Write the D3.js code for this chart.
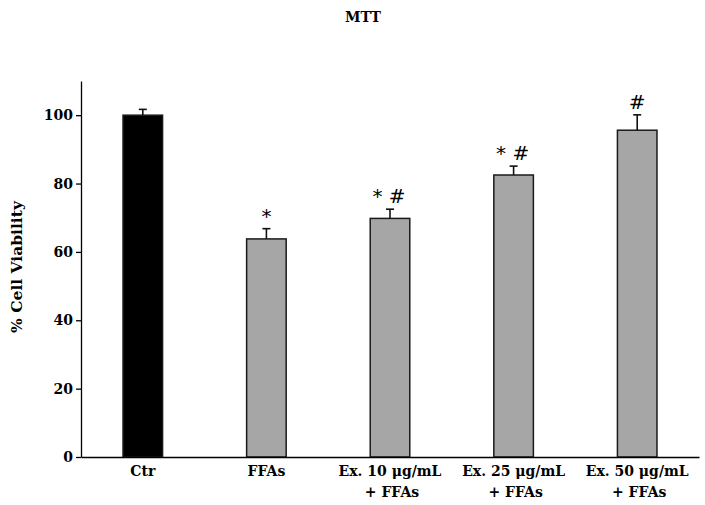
<!DOCTYPE html>
<html>
<head>
<meta charset="utf-8">
<script src="https://cdn.jsdelivr.net/npm/d3@7"></script>
<style>
  body { margin: 0; background: #fff; }
  text { font-family: "DejaVu Serif", serif; }
</style>
</head>
<body>
<div id="chart"></div>
<script>
// chart data
const categories = ['Ctr', 'FFAs', 'Ex. 10 μg/mL|+ FFAs', 'Ex. 25 μg/mL|+ FFAs', 'Ex. 50 μg/mL|+ FFAs']
const viability = [100, 63.8, 69.8, 82.5, 95.6]
const errors = [1.7, 3.0, 2.7, 2.6, 4.5]
const marks = ['', '*', '* #', '* #', '#']
const barColors = ['#000000', '#a6a6a6', '#a6a6a6', '#a6a6a6', '#a6a6a6']
const yTicks = [0, 20, 40, 60, 80, 100]

const width = 705
const height = 505
const margin = { top: 81, right: 5, bottom: 48, left: 81 }
const labelStyle = 'font-size:14px;font-weight:bold;font-family:"DejaVu Serif",serif;'

const svg = d3.select('#chart')
  .append('svg')
  .attr('width', width)
  .attr('height', height)

const x = d3.scaleBand()
  .domain(categories)
  .range([margin.left, width - margin.right - 1])
  .paddingInner(0.68)
  .paddingOuter(0.34)

const y = d3.scaleLinear()
  .domain([0, 110])
  .range([height - margin.bottom, margin.top])

// title
svg.append('text')
  .attr('x', 363)
  .attr('y', 22)
  .attr('text-anchor', 'middle')
  .attr('style', 'font-size:14px;font-weight:bold;')
  .text('MTT')

// y axis label
svg.append('text')
  .attr('transform', `translate(22,${267}) rotate(-90)`)
  .attr('text-anchor', 'middle')
  .attr('style', 'font-size:15.5px;font-weight:bold;')
  .text('% Cell Viability')

// bars
const g = svg.append('g')
g.selectAll('rect')
  .data(viability)
  .enter()
  .append('rect')
  .attr('x', (d, i) => x(categories[i]))
  .attr('y', d => y(d))
  .attr('width', x.bandwidth())
  .attr('height', d => y(0) - y(d))
  .attr('fill', (d, i) => barColors[i])
  .attr('stroke', '#1a1a1a')
  .attr('stroke-width', 1.5)

// error bars
const err = svg.append('g')
  .attr('stroke', '#111')
  .attr('stroke-width', 1.6)
viability.forEach((v, i) => {
  const cx = x(categories[i]) + x.bandwidth() / 2
  err.append('line')
    .attr('x1', cx).attr('x2', cx)
    .attr('y1', y(v)).attr('y2', y(v + errors[i]))
  err.append('line')
    .attr('x1', cx - 4).attr('x2', cx + 4)
    .attr('y1', y(v + errors[i])).attr('y2', y(v + errors[i]))
})

// significance marks
svg.append('g')
  .selectAll('text')
  .data(marks)
  .enter()
  .append('text')
  .attr('x', (d, i) => x(categories[i]) + x.bandwidth() / 2 - (d.length > 1 ? 1 : 0))
  .attr('y', (d, i) => y(viability[i] + errors[i]) - 6)
  .attr('text-anchor', 'middle')
  .attr('style', 'font-size:20px;font-family:"DejaVu Sans",sans-serif;')
  .attr('xml:space', 'preserve')
  .text(d => d)

// y axis
const yAxis = d3.axisLeft(y).tickValues(yTicks).tickSize(5).tickSizeOuter(0)
const yAxisG = svg.append('g')
  .attr('transform', `translate(${margin.left},0)`)
  .call(yAxis)
yAxisG.select('.domain').attr('stroke', '#000').attr('stroke-width', 1.3)
yAxisG.selectAll('.tick line').attr('stroke-width', 1.3)
yAxisG.selectAll('.tick text')
  .attr('x', -8)
  .attr('style', labelStyle)
  .attr('fill', '#000')

// x axis
const xAxis = d3.axisBottom(x).tickSize(0).tickSizeOuter(0)
const xAxisG = svg.append('g')
  .attr('transform', `translate(0,${y(0)})`)
  .call(xAxis)
xAxisG.select('.domain').attr('stroke', '#000').attr('stroke-width', 1.3)
xAxisG.selectAll('.tick text').each(function (d) {
  const t = d3.select(this)
  const lines = d.split('|')
  t.text(null)
    .attr('y', 19)
    .attr('dy', 0)
    .attr('fill', '#000')
    .attr('style', labelStyle)
  lines.forEach((line, k) => {
    t.append('tspan')
      .attr('x', k === 0 ? 0 : 2)
      .attr('dy', k === 0 ? 0 : 21)
      .text(line)
  })
})
</script>
</body>
</html>
